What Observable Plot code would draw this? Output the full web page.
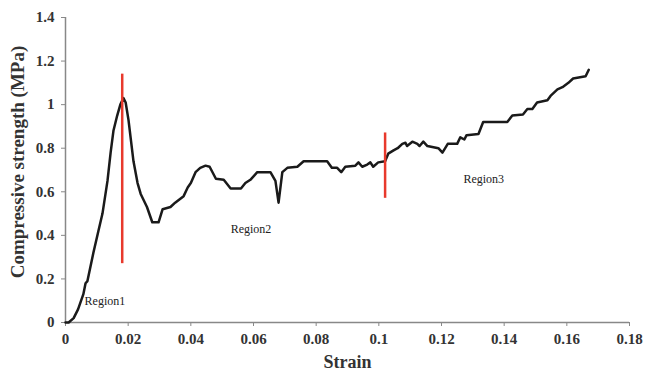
<!DOCTYPE html>
<html>
<head>
<meta charset="utf-8">
<script src="https://cdn.jsdelivr.net/npm/d3@7"></script>
<script src="https://cdn.jsdelivr.net/npm/@observablehq/plot@0.6"></script>
<style>
  html, body { margin: 0; padding: 0; background: #fff; }
  #chart { width: 652px; height: 378px; }
  #chart svg text { font-family: "Liberation Serif", "DejaVu Serif", serif; }
</style>
</head>
<body>
<div id="chart"></div>
<script>
const strain = [0, 0.001, 0.0026, 0.004, 0.0057, 0.0064, 0.007, 0.0089, 0.0105, 0.0118, 0.0134, 0.0144, 0.0153, 0.0165, 0.0175, 0.0185, 0.0192, 0.0201, 0.0217, 0.023, 0.024, 0.026, 0.0277, 0.0297, 0.031, 0.0335, 0.035, 0.0377, 0.039, 0.040, 0.0415, 0.043, 0.0447, 0.046, 0.048, 0.0505, 0.0527, 0.056, 0.0574, 0.059, 0.0612, 0.0638, 0.0654, 0.067, 0.068, 0.0692, 0.0708, 0.074, 0.076, 0.0835, 0.085, 0.0867, 0.088, 0.0893, 0.0925, 0.0935, 0.0947, 0.0963, 0.0973, 0.0982, 0.0998, 0.102, 0.103, 0.1047, 0.106, 0.1075, 0.1085, 0.109, 0.1107, 0.1123, 0.113, 0.1142, 0.1155, 0.119, 0.1203, 0.122, 0.125, 0.126, 0.1273, 0.128, 0.1318, 0.1333, 0.141, 0.1426, 0.146, 0.1474, 0.149, 0.1505, 0.1538, 0.1548, 0.157, 0.1586, 0.1605, 0.162, 0.166, 0.167];
const strength = [0, 0.0, 0.02, 0.06, 0.13, 0.18, 0.19, 0.32, 0.42, 0.50, 0.65, 0.78, 0.88, 0.95, 1.00, 1.03, 1.01, 0.93, 0.74, 0.64, 0.59, 0.53, 0.46, 0.46, 0.52, 0.53, 0.55, 0.58, 0.62, 0.64, 0.69, 0.71, 0.72, 0.715, 0.66, 0.655, 0.615, 0.615, 0.64, 0.655, 0.69, 0.69, 0.69, 0.65, 0.55, 0.69, 0.71, 0.715, 0.74, 0.74, 0.71, 0.71, 0.69, 0.715, 0.72, 0.735, 0.715, 0.725, 0.735, 0.715, 0.735, 0.74, 0.775, 0.79, 0.80, 0.82, 0.825, 0.81, 0.83, 0.82, 0.81, 0.83, 0.81, 0.80, 0.78, 0.82, 0.82, 0.85, 0.84, 0.86, 0.865, 0.92, 0.92, 0.95, 0.955, 0.98, 0.98, 1.01, 1.02, 1.04, 1.07, 1.08, 1.10, 1.12, 1.13, 1.16];

const dividerStrain = [0.0181, 0.102];
const dividerLow = [0.27, 0.57];
const dividerHigh = [1.14, 0.87];

const regionNames = ["Region1", "Region2", "Region3"];
const regionStrain = [0.0061, 0.0527, 0.127];
const regionStrength = [0.10, 0.43, 0.66];

const xTicks = [0, 0.02, 0.04, 0.06, 0.08, 0.1, 0.12, 0.14, 0.16, 0.18];
const yTicks = [0, 0.2, 0.4, 0.6, 0.8, 1, 1.2, 1.4];

const curve = strain.map((x, i) => ({x, y: strength[i]}));
const dividers = dividerStrain.map((x, i) => ({x, y1: dividerLow[i], y2: dividerHigh[i]}));
const regions = regionNames.map((name, i) => ({name, x: regionStrain[i], y: regionStrength[i]}));

const serif = "Liberation Serif, DejaVu Serif, serif";
const fmt = d => String(+d.toFixed(4));

const chart = Plot.plot({
  width: 652,
  height: 378,
  marginLeft: 65,
  marginRight: 23,
  marginTop: 17,
  marginBottom: 56,
  style: {fontFamily: serif, background: "#fff", color: "#333"},
  x: {domain: [0, 0.18]},
  y: {domain: [0, 1.4]},
  marks: [
    Plot.axisX({ticks: xTicks, tickFormat: fmt, tickSize: 4, tickPadding: 7, fontSize: 15, fontWeight: "bold", label: null, stroke: "#888", fill: "#333"}),
    Plot.axisY({ticks: yTicks, tickFormat: fmt, tickSize: 4, tickPadding: 7, fontSize: 15, fontWeight: "bold", label: null, stroke: "#888", fill: "#333"}),
    Plot.ruleY([0], {stroke: "#888", strokeWidth: 1.5}),
    Plot.ruleX([0], {stroke: "#888", strokeWidth: 1.5}),
    Plot.line(curve, {x: "x", y: "y", stroke: "#1a1a1a", strokeWidth: 2.5, strokeLinejoin: "round"}),
    Plot.ruleX(dividers, {x: "x", y1: "y1", y2: "y2", stroke: "#e8392c", strokeWidth: 2.5}),
    Plot.text(regions, {x: "x", y: "y", text: "name", textAnchor: "start", fontSize: 12, fill: "#222"}),
    Plot.text(["Strain"], {frameAnchor: "bottom", dy: 45, fontSize: 18, fontWeight: "bold", fill: "#333"}),
    Plot.text(["Compressive strength (MPa)"], {frameAnchor: "left", textAnchor: "middle", dx: -48, dy: -8, rotate: -90, fontSize: 19, fontWeight: "bold", fill: "#333"})
  ]
});
document.getElementById("chart").appendChild(chart);
</script>
</body>
</html>
